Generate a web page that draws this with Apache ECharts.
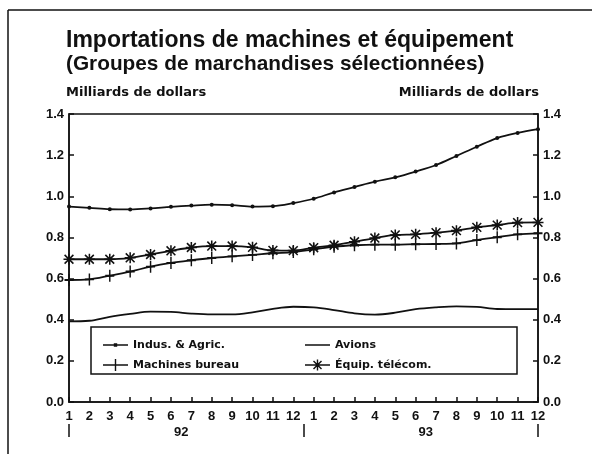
<!DOCTYPE html>
<html>
<head>
<meta charset="utf-8">
<script src="https://cdn.jsdelivr.net/npm/echarts@6/dist/echarts.min.js"></script>
<style>
  html, body { margin: 0; padding: 0; background: #fff; }
  #chart { width: 592px; height: 454px; }
</style>
</head>
<body>
<div id="chart"></div>
<script>
// mois, 1992 puis 1993
var months = ['1','2','3','4','5','6','7','8','9','10','11','12',
              '1','2','3','4','5','6','7','8','9','10','11','12'];
var years = ['92', '93'];

var indusAgric = [0.950, 0.944, 0.937, 0.936, 0.941, 0.949, 0.955, 0.959, 0.957, 0.950, 0.952, 0.967,
                  0.988, 1.019, 1.045, 1.071, 1.092, 1.120, 1.152, 1.196, 1.241, 1.283, 1.308, 1.326];
var machinesBureau = [0.593, 0.596, 0.614, 0.634, 0.658, 0.676, 0.689, 0.700, 0.708, 0.715, 0.723, 0.729,
                      0.742, 0.755, 0.762, 0.765, 0.765, 0.767, 0.768, 0.771, 0.787, 0.801, 0.815, 0.820];
var avions = [0.392, 0.395, 0.414, 0.428, 0.439, 0.438, 0.430, 0.426, 0.426, 0.436, 0.453, 0.463,
              0.460, 0.447, 0.431, 0.425, 0.434, 0.451, 0.460, 0.465, 0.462, 0.452, 0.451, 0.451];
var equipTelecom = [0.694, 0.694, 0.694, 0.701, 0.717, 0.735, 0.751, 0.758, 0.758, 0.752, 0.737, 0.736,
                    0.750, 0.762, 0.779, 0.797, 0.812, 0.815, 0.823, 0.833, 0.849, 0.860, 0.872, 0.873];

var ink = '#111';
var font = 'Liberation Sans, Arial, Helvetica, sans-serif';
var wideFont = 'DejaVu Sans, Verdana, sans-serif';

// + et asterisque, dessines comme formes pleines
var plusSym = 'path://M4.2,0 L5.8,0 L5.8,10 L4.2,10 Z M0,4.2 L10,4.2 L10,5.8 L0,5.8 Z';
var starSym = 'path://M4.3,0 L5.7,0 L5.7,10 L4.3,10 Z M0,4.3 L10,4.3 L10,5.7 L0,5.7 Z' +
              ' M1.5,0.5 L9.5,8.5 L8.5,9.5 L0.5,1.5 Z M8.5,0.5 L9.5,1.5 L1.5,9.5 L0.5,8.5 Z';

// icones de legende : trait + symbole (boite 25x12)
var bar = 'M0,5.3 L25,5.3 L25,6.7 L0,6.7 Z';
var pad = ' M12,0 L13,0 L13,0.01 L12,0.01 Z M12,12 L13,12 L13,11.99 L12,11.99 Z';
var iconIndus = 'path://' + bar + ' M10.8,4.3 L14.2,4.3 L14.2,7.7 L10.8,7.7 Z' + pad;
var iconAvions = 'path://' + bar + pad;
var iconMach = 'path://' + bar + ' M11.8,0 L13.2,0 L13.2,12 L11.8,12 Z';
var iconEquip = 'path://' + bar + ' M11.8,0.5 L13.2,0.5 L13.2,11.5 L11.8,11.5 Z M7.5,5.3 L17.5,5.3 L17.5,6.7 L7.5,6.7 Z' +
                ' M9,1.5 L17,9.5 L16,10.5 L8,2.5 Z M16,1.5 L17,2.5 L9,10.5 L8,9.5 Z' + pad;

var chart = echarts.init(document.getElementById('chart'));

function yAxisDef(pos) {
  return {
    type: 'value', gridIndex: 0, position: pos, min: 0, max: 1.4, interval: 0.2,
    name: 'Milliards de dollars', nameLocation: 'end', nameGap: 15,
    nameTextStyle: { color: ink, fontFamily: wideFont, fontSize: 13, fontWeight: 'bold',
                     align: pos === 'left' ? 'left' : 'right',
                     padding: pos === 'left' ? [0, 0, 0, -3] : [0, -1, 0, 0] },
    axisLine: { show: true, lineStyle: { color: ink, width: 1.5 } },
    axisTick: { show: true, inside: true, length: 5, lineStyle: { color: ink, width: 1.5 } },
    axisLabel: { color: ink, fontFamily: font, fontSize: 13, fontWeight: 'bold', margin: 5,
                 formatter: function (v) { return v.toFixed(1); } },
    splitLine: { show: false }
  };
}

function lineSeries(name, data, symbol, size) {
  return {
    name: name, type: 'line', data: data, smooth: 0.35,
    xAxisIndex: 0, yAxisIndex: 0,
    symbol: symbol, symbolSize: size, showSymbol: symbol !== 'none',
    lineStyle: { color: ink, width: 1.8 },
    itemStyle: { color: ink },
    emphasis: { disabled: true }
  };
}

var legendText = { color: ink, fontFamily: wideFont, fontSize: 11, fontWeight: 'bold' };

chart.setOption({
  backgroundColor: '#fff',
  animation: false,
  title: [
    { text: 'Importations de machines et équipement', left: 61, top: 24,
      textStyle: { color: ink, fontFamily: font, fontSize: 23, fontWeight: 'bold' } },
    { text: '(Groupes de marchandises sélectionnées)', left: 61, top: 49,
      textStyle: { color: ink, fontFamily: font, fontSize: 20.8, fontWeight: 'bold' } }
  ],
  grid: [
    { left: 69, right: 54, top: 114, bottom: 52, show: true,
      borderColor: ink, borderWidth: 1.5, backgroundColor: 'transparent' },
    // bande des separateurs d'annees
    { left: 69, right: 54, top: 411, height: 13, show: false }
  ],
  legend: [
    {
      left: 98, top: 334, orient: 'vertical', itemGap: 8, itemWidth: 25, itemHeight: 12,
      selectedMode: false, textStyle: legendText,
      data: [{ name: 'Indus. & Agric.', icon: iconIndus },
             { name: 'Machines bureau', icon: iconMach }]
    },
    {
      left: 300, top: 334, orient: 'vertical', itemGap: 8, itemWidth: 25, itemHeight: 12,
      selectedMode: false, textStyle: legendText,
      data: [{ name: 'Avions', icon: iconAvions },
             { name: 'Équip. télécom.', icon: iconEquip }]
    }
  ],
  xAxis: [
    {
      type: 'category', gridIndex: 0, data: months, boundaryGap: false, position: 'bottom',
      axisLine: { show: true, lineStyle: { color: ink, width: 1.5 } },
      axisTick: { show: true, inside: true, length: 5, lineStyle: { color: ink, width: 1.5 } },
      axisLabel: { color: ink, fontFamily: font, fontSize: 13, fontWeight: 'bold', margin: 8, interval: 0 },
      splitLine: { show: false }
    },
    {
      // separateurs d'annees
      type: 'category', gridIndex: 1, data: years, boundaryGap: true, position: 'top',
      axisLine: { show: false },
      axisTick: { show: true, inside: true, length: 13, lineStyle: { color: ink, width: 1.5 } },
      axisLabel: { show: false },
      splitLine: { show: false }
    },
    {
      // etiquettes d'annees
      type: 'value', gridIndex: 0, min: 0, max: 23, position: 'bottom', offset: 22,
      axisLine: { show: false },
      axisTick: { show: false },
      axisLabel: { color: ink, fontFamily: font, fontSize: 13, fontWeight: 'bold', margin: 2,
                   customValues: [5.5, 17.5],
                   formatter: function (v) { return v < 12 ? years[0] : years[1]; } },
      splitLine: { show: false }
    }
  ],
  yAxis: [
    yAxisDef('left'),
    yAxisDef('right'),
    { type: 'value', gridIndex: 1, show: false }
  ],
  graphic: [
    { type: 'line', shape: { x1: 8, y1: 10, x2: 592, y2: 10 }, style: { stroke: ink, lineWidth: 1.5 } },
    { type: 'line', shape: { x1: 8, y1: 10, x2: 8, y2: 454 }, style: { stroke: ink, lineWidth: 1.5 } },
    // cadre de la legende
    { type: 'rect', shape: { x: 91, y: 327, width: 426, height: 47 },
      style: { fill: 'none', stroke: ink, lineWidth: 1.5 }, z: 5 }
  ],
  series: [
    lineSeries('Indus. & Agric.', indusAgric, 'circle', 4),
    lineSeries('Avions', avions, 'none', 0),
    lineSeries('Machines bureau', machinesBureau, plusSym, [9, 12]),
    lineSeries('Équip. télécom.', equipTelecom, starSym, 11)
  ]
});
</script>
</body>
</html>
